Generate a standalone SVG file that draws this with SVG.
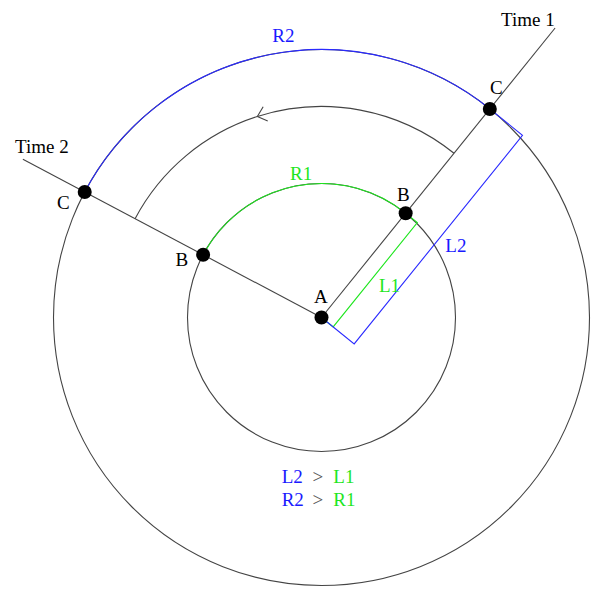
<svg xmlns="http://www.w3.org/2000/svg" width="604" height="600" viewBox="0 0 604 600">
<style>
text { font-family: "Liberation Serif", "Times New Roman", serif; font-size: 19px; }
.k { fill: #000; }
.bl { fill: #1a1aff; }
.gr { fill: #1ee61e; }
.gy { fill: #555; }
.ln { fill: none; stroke: #444; stroke-width: 1.1; }
.bls { fill: none; stroke: #2a2aff; stroke-width: 1.1; }
.grs { fill: none; stroke: #1ee61e; stroke-width: 1.1; }
.dot { fill: #000; }
</style>
<defs>
<marker id="chev" markerUnits="userSpaceOnUse" markerWidth="20" markerHeight="20" viewBox="-10 -10 20 20" refX="0" refY="0" orient="auto">
<path d="M -8.5,-7.5 L 0,0 L -8.5,7.5" fill="none" stroke="#444" stroke-width="1.1"/>
</marker>
</defs>
<rect width="604" height="600" fill="#fff"/>
<g id="connectors">
<circle class="ln" cx="321.5" cy="317.5" r="268"/>
<circle class="ln" cx="321.5" cy="317.5" r="134"/>
<line class="ln" x1="321.5" y1="317.5" x2="555.1" y2="28"/>
<line class="ln" x1="321.5" y1="317.5" x2="22.9" y2="159.2"/>
<path class="ln" d="M 454,153.3 A 211,211 0 0 0 257.35,116.48" marker-end="url(#chev)"/>
<path class="ln" d="M 257.35,116.48 A 211,211 0 0 0 135.08,218.65"/>
<path class="bls" d="M 489.8,108.94 A 268,268 0 0 0 84.72,191.94"/>
<path class="grs" d="M 405.65,213.22 A 134,134 0 0 0 203.11,254.72"/>
<path class="grs" d="M 321.5,317.5 L 333.17,326.92 L 417.32,222.64 L 405.65,213.22"/>
<path class="bls" d="M 321.5,317.5 L 354.18,343.88 L 522.48,135.32 L 489.8,108.94"/>
</g>
<g id="node-A">
<circle class="dot" cx="321.5" cy="317.5" r="7"/>
<text class="k" x="314" y="302.5">A</text>
</g>
<g id="node-B1">
<circle class="dot" cx="405.65" cy="213.22" r="7"/>
<text class="k" x="397" y="200.5">B</text>
</g>
<g id="node-C1">
<circle class="dot" cx="489.8" cy="108.94" r="7"/>
<text class="k" x="490" y="94">C</text>
</g>
<g id="node-B2">
<circle class="dot" cx="203.11" cy="254.72" r="7"/>
<text class="k" x="175.5" y="266">B</text>
</g>
<g id="node-C2">
<circle class="dot" cx="84.72" cy="191.94" r="7"/>
<text class="k" x="57" y="209">C</text>
</g>
<g id="labels">
<text class="k" x="501" y="25.5">Time 1</text>
<text class="k" x="15" y="152.5">Time 2</text>
<text class="bl" x="272.3" y="41.7">R2</text>
<text class="gr" x="290" y="180">R1</text>
<text class="gr" x="379" y="292.3">L1</text>
<text class="bl" x="445.3" y="252.3">L2</text>
<text x="281.7" y="483.3"><tspan class="bl">L2</tspan><tspan class="gy" x="312.5">&gt;</tspan><tspan class="gr" x="333.3">L1</tspan></text>
<text x="281.7" y="506"><tspan class="bl">R2</tspan><tspan class="gy" x="312.5">&gt;</tspan><tspan class="gr" x="333.3">R1</tspan></text>
</g>
</svg>
